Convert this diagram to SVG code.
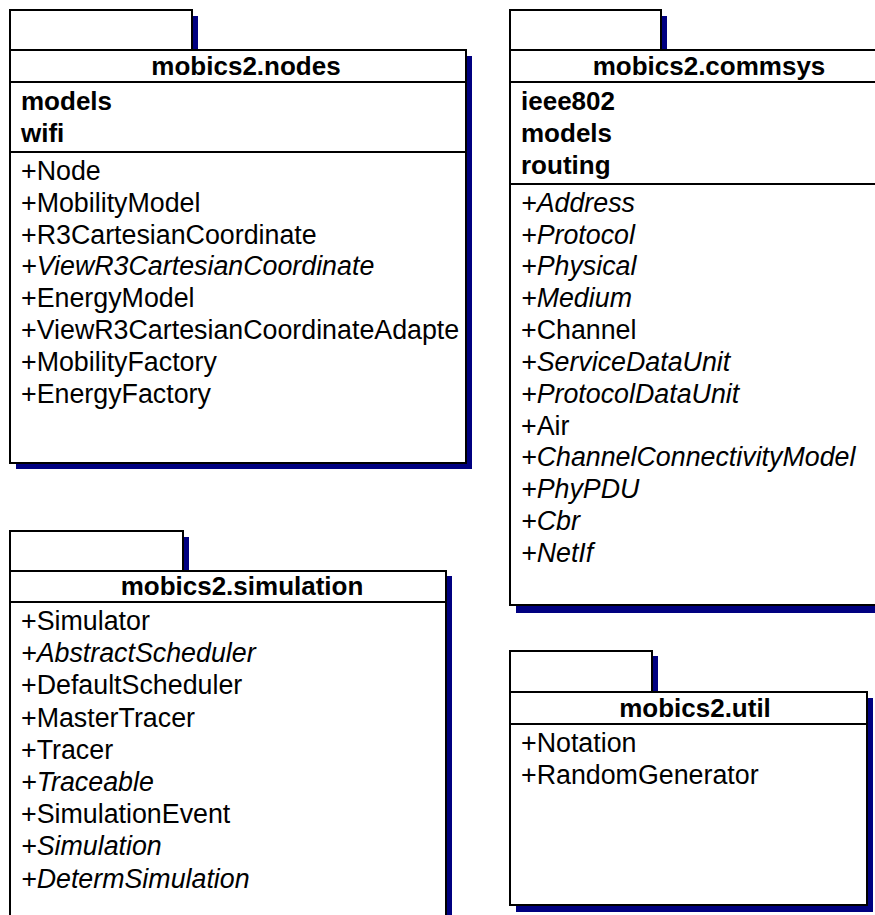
<svg xmlns="http://www.w3.org/2000/svg" width="875" height="915" viewBox="0 0 875 915">
  <style>
    .shadow { fill: #000080; }
    .frame { fill: #ffffff; stroke: #000000; stroke-width: 2; }
    .rule { stroke: #000000; stroke-width: 2; fill: none; }
    text { font-family: "Liberation Sans", Arial, sans-serif; font-size: 26.8px; fill: #000000; }
    .title { font-size: 26px; font-weight: bold; text-anchor: middle; }
    .pkg { font-size: 26px; font-weight: bold; }
    .abs { font-style: italic; }
  </style>
  <rect width="875" height="915" fill="#ffffff"/>

  <!-- package mobics2.nodes -->
  <g id="pkg-nodes">
    <rect class="shadow" x="16" y="16" width="182" height="40"/>
    <rect class="shadow" x="16" y="56" width="456" height="413"/>
    <rect class="frame" x="10" y="10" width="182" height="40"/>
    <rect class="frame" x="10" y="50" width="456" height="413"/>
    <line class="rule" x1="10" y1="82" x2="466" y2="82"/>
    <line class="rule" x1="10" y1="152" x2="466" y2="152"/>
    <text class="title" x="246" y="75">mobics2.nodes</text>
    <text class="pkg" x="21" y="110">models</text>
    <text class="pkg" x="21" y="142">wifi</text>
    <text x="21" y="180">+Node</text>
    <text x="21" y="212">+MobilityModel</text>
    <text x="21" y="244">+R3CartesianCoordinate</text>
    <text class="abs" x="21" y="275">+ViewR3CartesianCoordinate</text>
    <text x="21" y="307">+EnergyModel</text>
    <text x="21" y="339">+ViewR3CartesianCoordinateAdapte</text>
    <text x="21" y="371">+MobilityFactory</text>
    <text x="21" y="403">+EnergyFactory</text>
  </g>

  <!-- package mobics2.commsys -->
  <g id="pkg-commsys">
    <rect class="shadow" x="516" y="16" width="151" height="40"/>
    <rect class="shadow" x="516" y="56" width="398" height="557"/>
    <rect class="frame" x="510" y="10" width="151" height="40"/>
    <rect class="frame" x="510" y="50" width="398" height="555"/>
    <line class="rule" x1="510" y1="82" x2="908" y2="82"/>
    <line class="rule" x1="510" y1="184" x2="908" y2="184"/>
    <text class="title" x="709" y="75">mobics2.commsys</text>
    <text class="pkg" x="521" y="110">ieee802</text>
    <text class="pkg" x="521" y="142">models</text>
    <text class="pkg" x="521" y="174">routing</text>
    <text class="abs" x="521" y="212">+Address</text>
    <text class="abs" x="521" y="244">+Protocol</text>
    <text class="abs" x="521" y="275">+Physical</text>
    <text class="abs" x="521" y="307">+Medium</text>
    <text x="521" y="339">+Channel</text>
    <text class="abs" x="521" y="371">+ServiceDataUnit</text>
    <text class="abs" x="521" y="403">+ProtocolDataUnit</text>
    <text x="521" y="435">+Air</text>
    <text class="abs" x="521" y="466">+ChannelConnectivityModel</text>
    <text class="abs" x="521" y="498">+PhyPDU</text>
    <text class="abs" x="521" y="530">+Cbr</text>
    <text class="abs" x="521" y="562">+NetIf</text>
  </g>

  <!-- package mobics2.simulation -->
  <g id="pkg-simulation">
    <rect class="shadow" x="16" y="537" width="173" height="40"/>
    <rect class="shadow" x="16" y="576" width="436" height="380"/>
    <rect class="frame" x="10" y="531" width="173" height="40"/>
    <rect class="frame" x="10" y="571" width="436" height="380"/>
    <line class="rule" x1="10" y1="602" x2="446" y2="602"/>
    <text class="title" x="242" y="595">mobics2.simulation</text>
    <text x="21" y="630">+Simulator</text>
    <text class="abs" x="21" y="662">+AbstractScheduler</text>
    <text x="21" y="694">+DefaultScheduler</text>
    <text x="21" y="727">+MasterTracer</text>
    <text x="21" y="759">+Tracer</text>
    <text class="abs" x="21" y="791">+Traceable</text>
    <text x="21" y="823">+SimulationEvent</text>
    <text class="abs" x="21" y="855">+Simulation</text>
    <text class="abs" x="21" y="888">+DetermSimulation</text>
  </g>

  <!-- package mobics2.util -->
  <g id="pkg-util">
    <rect class="shadow" x="516" y="656" width="142" height="40"/>
    <rect class="shadow" x="516" y="698" width="357" height="214"/>
    <rect class="frame" x="510" y="651" width="142" height="41"/>
    <rect class="frame" x="510" y="692" width="357" height="213"/>
    <line class="rule" x1="510" y1="724" x2="867" y2="724"/>
    <text class="title" x="695" y="717">mobics2.util</text>
    <text x="521" y="752">+Notation</text>
    <text x="521" y="784">+RandomGenerator</text>
  </g>

  <!-- no connectors between packages -->
  <g id="connectors"/>
</svg>
